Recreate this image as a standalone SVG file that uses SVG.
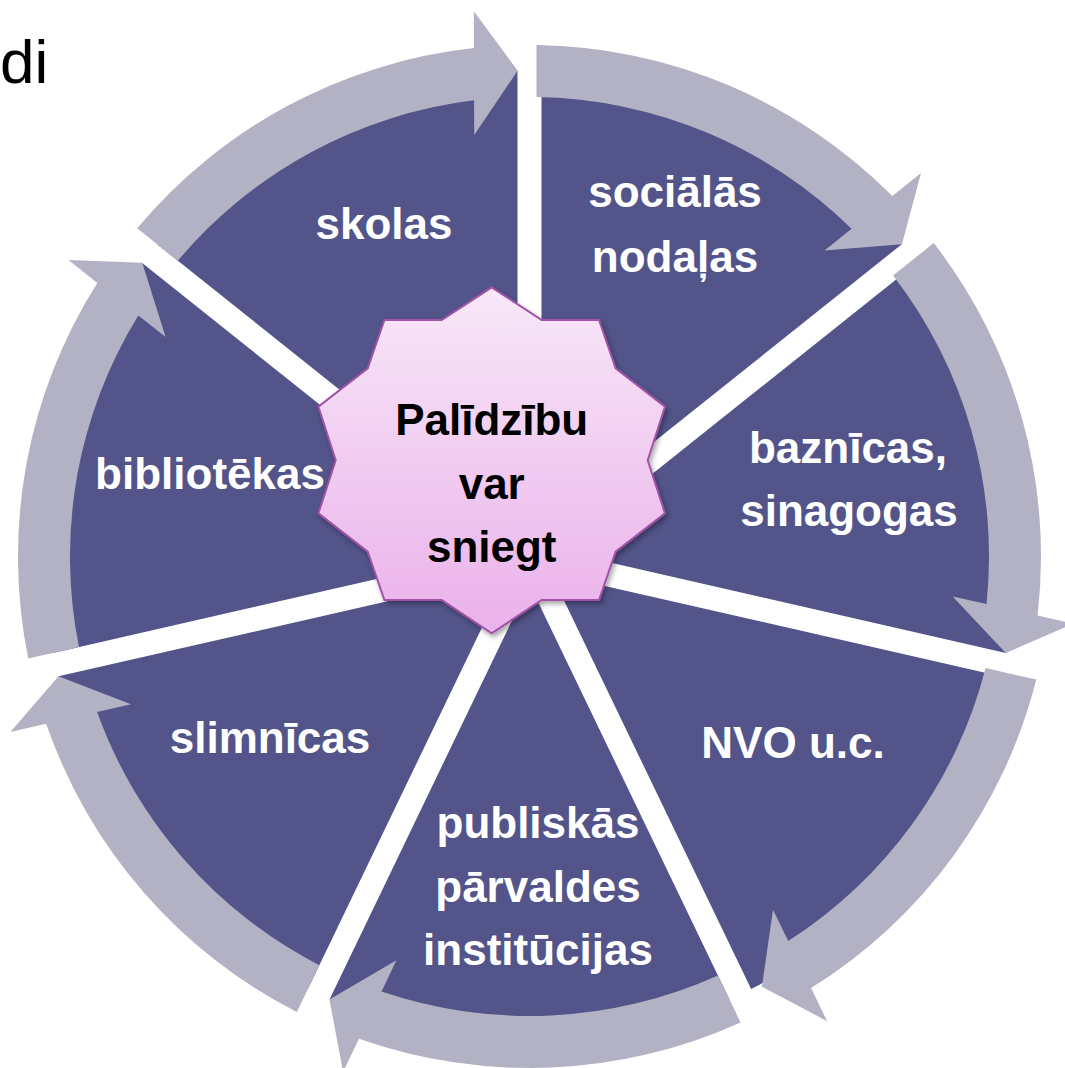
<svg xmlns="http://www.w3.org/2000/svg" xmlns:xlink="http://www.w3.org/1999/xlink" width="1065" height="1068" viewBox="0 0 1065 1068">
<style>
.seg{fill:#52548A}
.arr{fill:#B2B2C4}
.lbl{font-family:"Liberation Sans",Arial,sans-serif;font-weight:bold;font-size:44px;fill:#FFFFFF;text-anchor:middle}
.ctr{font-family:"Liberation Sans",Arial,sans-serif;font-weight:bold;font-size:44px;fill:#000000;text-anchor:middle}
.title{font-family:"Liberation Sans",Arial,sans-serif;font-size:62px;fill:#000000}
</style>
<defs>
<path id="seg" d="M517.5,531.58 L157.13,244.2 A486,486 0 0 1 517.5,70.65 Z"/>
<path id="arrA" d="M137.18,228.29 A511.5,511.5 0 0 1 473.91,48.03 L473.83,11.33 L517.63,70.65 L474.25,135.11 L474.06,100.36 A459.5,459.5 0 0 0 177.85,260.72 Z"/>
<path id="arrB" d="M133.99,232.14 A511.5,511.5 0 0 1 473.91,48.03 L473.83,11.33 L517.63,70.65 L474.25,135.11 L474.06,100.36 A459.5,459.5 0 0 0 174.65,264.57 Z"/>
<linearGradient id="starGrad" x1="0" y1="0" x2="0" y2="1">
<stop offset="0" stop-color="#F8E8F8"/>
<stop offset="1" stop-color="#EAB1EA"/>
</linearGradient>
<filter id="shadow" x="-10%" y="-10%" width="120%" height="120%">
<feDropShadow dx="2" dy="3" stdDeviation="2.5" flood-color="#000000" flood-opacity="0.35"/>
</filter>
</defs>
<text class="title" x="0" y="83">di</text>
<g id="node-skolas">
<use xlink:href="#seg" class="seg"/>
<text class="lbl" x="384" y="239">skolas</text>
</g>
<g id="node-socialas">
<use xlink:href="#seg" class="seg" transform="rotate(51.4286 529.5 556.5)"/>
<text class="lbl" x="675" y="207">sociālās</text>
<text class="lbl" x="675" y="272">nodaļas</text>
</g>
<g id="node-baznicas">
<use xlink:href="#seg" class="seg" transform="rotate(102.8571 529.5 556.5)"/>
<text class="lbl" x="848" y="463">baznīcas,</text>
<text class="lbl" x="849" y="526">sinagogas</text>
</g>
<g id="node-nvo">
<use xlink:href="#seg" class="seg" transform="rotate(154.2857 529.5 556.5)"/>
<text class="lbl" x="793" y="758">NVO u.c.</text>
</g>
<g id="node-publiskas">
<use xlink:href="#seg" class="seg" transform="rotate(205.7143 529.5 556.5)"/>
<text class="lbl" x="538" y="838">publiskās</text>
<text class="lbl" x="538" y="902">pārvaldes</text>
<text class="lbl" x="538" y="965">institūcijas</text>
</g>
<g id="node-slimnicas">
<use xlink:href="#seg" class="seg" transform="rotate(257.1429 529.5 556.5)"/>
<text class="lbl" x="270" y="753">slimnīcas</text>
</g>
<g id="node-bibliotekas">
<use xlink:href="#seg" class="seg" transform="rotate(308.5714 529.5 556.5)"/>
<text class="lbl" x="210" y="489">bibliotēkas</text>
</g>
<g id="connectors">
<use xlink:href="#arrA" class="arr"/>
<use xlink:href="#arrB" class="arr" transform="rotate(51.4286 529.5 556.5)"/>
<use xlink:href="#arrB" class="arr" transform="rotate(102.8571 529.5 556.5)"/>
<use xlink:href="#arrA" class="arr" transform="translate(10.9 -2.4) rotate(154.2857 529.5 556.5)"/>
<use xlink:href="#arrA" class="arr" transform="rotate(205.7143 529.5 556.5)"/>
<use xlink:href="#arrA" class="arr" transform="rotate(257.1429 529.5 556.5)"/>
<use xlink:href="#arrA" class="arr" transform="rotate(308.5714 529.5 556.5)"/>
</g>
<g id="node-center">
<polygon points="491.7,287.3 541.7,320 599,320 615.7,368.3 665,406.7 647.7,460.3 665,513.3 615.7,551.7 599,600 541.7,600 491.7,633.3 441.7,600 384.4,600 367.7,551.7 318.4,513.3 335.7,460.3 318.4,406.7 367.7,368.3 384.4,320 441.7,320" fill="url(#starGrad)" stroke="#A052A6" stroke-width="2" filter="url(#shadow)"/>
<text class="ctr" x="491.7" y="435">Palīdzību</text>
<text class="ctr" x="491.7" y="498.5">var</text>
<text class="ctr" x="491.7" y="562">sniegt</text>
</g>
</svg>
